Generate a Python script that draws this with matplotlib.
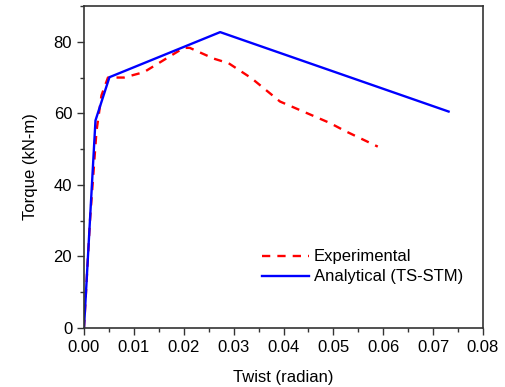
import matplotlib.pyplot as plt
from matplotlib.ticker import MultipleLocator

plt.rcParams['font.family'] = ['Liberation Sans', 'DejaVu Sans']

# Experimental curve
exp_twist = [0.0, 0.0012, 0.0025, 0.0035, 0.0048, 0.008, 0.012, 0.0200, 0.0212,
             0.026, 0.029, 0.0336, 0.0393, 0.0413, 0.0493, 0.0523, 0.0589]
exp_torque = [0.0, 30.0, 55.0, 65.0, 70.0, 70.0, 71.5, 78.3, 78.3,
              75.3, 74.0, 69.8, 63.3, 62.1, 57.3, 55.1, 50.7]

# Analytical (TS-STM) curve
ana_twist = [0.0, 0.0023, 0.0051, 0.0273, 0.0731]
ana_torque = [0.0, 58.0, 70.1, 82.7, 60.5]

fig = plt.figure(figsize=(5.06, 3.87), dpi=100)
ax = fig.add_axes([84 / 506, 1 - 328 / 387, 399 / 506, 322 / 387])

ax.plot(exp_twist, exp_torque, color='red', linestyle=(0, (3.5, 3)), linewidth=1.7, label='Experimental')
ax.plot(ana_twist, ana_torque, color='blue', linewidth=1.7, label='Analytical (TS-STM)')

ax.set_xlim(0, 0.08)
ax.set_ylim(0, 90)
ax.xaxis.set_major_locator(MultipleLocator(0.01))
ax.xaxis.set_minor_locator(MultipleLocator(0.005))
ax.yaxis.set_major_locator(MultipleLocator(20))
ax.yaxis.set_minor_locator(MultipleLocator(10))
ax.set_xticklabels(['%.2f' % v for v in ax.get_xticks()])
ax.tick_params(which='major', length=5, width=1, labelsize=12, color='#333333')
ax.tick_params(which='minor', length=3, width=1, color='#333333')
for s in ax.spines.values():
    s.set_color('#333333')
    s.set_linewidth(1.2)

ax.set_xlabel('Twist (radian)', fontsize=12, labelpad=11)
ax.set_ylabel('Torque (kN-m)', fontsize=12, labelpad=11)

ax.legend(loc='upper left', bbox_to_anchor=(0.43, 0.265), frameon=False, fontsize=12,
          handlelength=2.8, handletextpad=0.3, labelspacing=0.3, borderaxespad=0)

fig.savefig('out.png', dpi=100)
